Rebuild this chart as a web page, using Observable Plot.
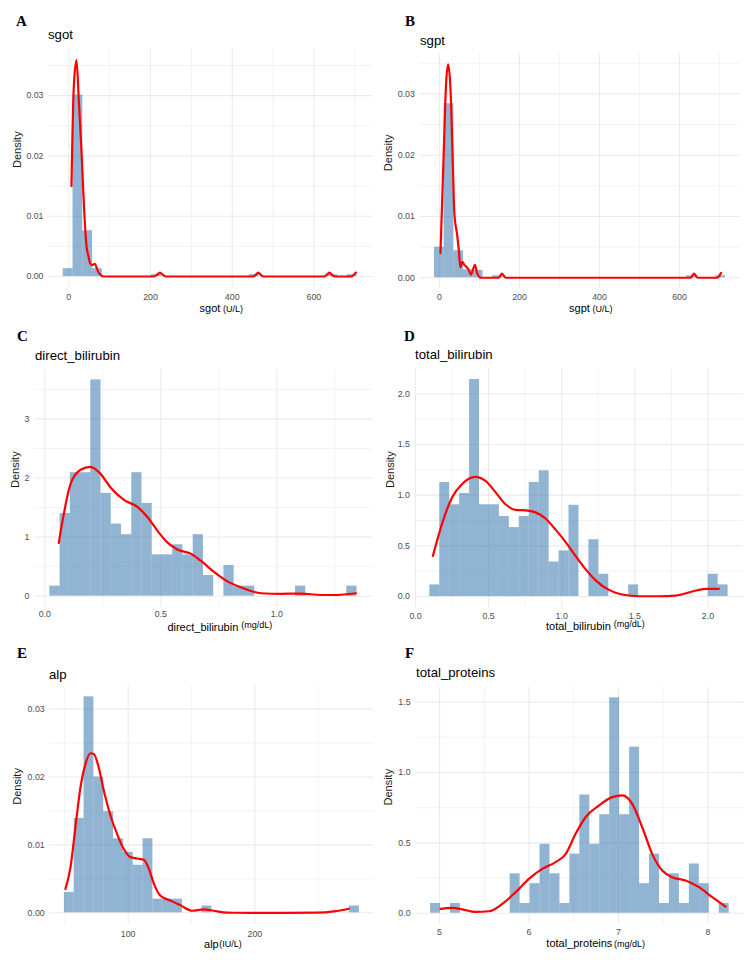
<!DOCTYPE html>
<html>
<head>
<meta charset="utf-8">
<script src="https://cdn.jsdelivr.net/npm/d3@7"></script>
<script src="https://cdn.jsdelivr.net/npm/@observablehq/plot@0.6"></script>
<style>
  html, body { margin: 0; padding: 0; background: #fff; }
  #root { position: relative; width: 750px; height: 970px; overflow: hidden; font-family: "Liberation Sans", Arial, sans-serif; }
  .lbl { position: absolute; white-space: nowrap; line-height: 1; color: #000; }
  .letter { font-family: "Liberation Serif", "Times New Roman", serif; font-weight: bold; font-size: 15px; }
  .title { font-size: 13.2px; }
  .axt { font-size: 11px; }
  .unit { position: absolute; left: 100%; font-size: 9px; line-height: 1; white-space: nowrap; }
  #root svg { position: absolute; }
</style>
</head>
<body>
<div id="root"></div>
<script>
// ---------- DATA ----------
// Panel A: sgot  (histogram densities, 30 bins)
const sgotBinStart = -13.7;
const sgotBinWidth = 24.0;
const sgotDensity = [0.0013, 0.0301, 0.0076, 0.0013, 0, 0, 0, 0, 0, 0.00031,
                     0, 0, 0, 0, 0, 0, 0, 0, 0, 0.00031,
                     0, 0, 0, 0, 0, 0, 0, 0.00031, 0, 0.00031];
const sgotCurve = [[6.5,0.0150],[12.2,0.0314],[18.8,0.0359],[24.5,0.0292],[31,0.0209],[35,0.0148],[38.4,0.0100],
                   [43.3,0.0051],[48,0.0034],[53,0.0021],[58,0.0019],[63.7,0.0021],[68,0.0015],[72,0.0008],[79,0.0002],
                   [86,0],[208,0],[216,0.0003],[223,0.00065],[230,0.0003],[238,0],[451,0],[458,0.0003],[464,0.00065],
                   [470,0.0003],[477,0],[625,0],[632,0.0003],[638,0.00065],[644,0.0003],[651,0],[692,0],[698,0.0003],[703,0.00066]];

// Panel B: sgpt
const sgptBinStart = -12.5;
const sgptBinWidth = 24.25;
const sgptDensity = [0.0050, 0.0284, 0.0044, 0.0013, 0.0012, 0, 0.00032, 0, 0, 0,
                     0, 0, 0, 0, 0, 0, 0, 0, 0, 0,
                     0, 0, 0, 0, 0, 0, 0.00032, 0, 0, 0.00032];
const sgptCurve = [[2.5,0.0040],[10.8,0.0207],[16,0.031],[21.6,0.0348],[27.4,0.031],[33.2,0.0191],[37.3,0.0104],
                   [44,0.0071],[48.1,0.0047],[52.3,0.0017],[57,0.0026],[62,0.0021],[67,0.0018],[73,0.0013],[79,0.0005],
                   [84,0.0014],[88.5,0.0021],[94,0.0008],[100,0.0001],[104,0],[147,0],[152,0.0003],[156,0.0007],
                   [161,0.0003],[166,0],[627,0],[632,0.0003],[636,0.0007],[641,0.0003],[646,0],[694,0],[699,0.0003],[704,0.0008]];

// Panel C: direct_bilirubin
const dbilBinStart = 0.0216;
const dbilBinWidth = 0.04413;
const dbilDensity = [0.17, 1.40, 2.09, 2.09, 3.66, 1.74, 1.22, 1.04, 2.09, 1.57,
                     0.70, 0.70, 0.87, 0.70, 1.04, 0.35, 0, 0.52, 0.17, 0.17,
                     0, 0, 0, 0, 0.17, 0, 0, 0, 0, 0.17];
const dbilCurve = [[0.060,0.90],[0.111,1.90],[0.154,2.14],[0.197,2.19],[0.240,2.07],[0.283,1.84],[0.341,1.63],
                   [0.399,1.51],[0.442,1.34],[0.485,1.11],[0.528,0.91],[0.571,0.79],[0.629,0.72],[0.672,0.60],
                   [0.729,0.41],[0.787,0.25],[0.845,0.15],[0.931,0.05],[1.017,0.04],[1.104,0.045],[1.19,0.02],
                   [1.248,0.02],[1.341,0.05]];

// Panel D: total_bilirubin
const tbilBinStart = 0.098;
const tbilBinWidth = 0.068;
const tbilDensity = [0.115, 1.125, 0.905, 1.016, 2.14, 0.905, 0.905, 0.79, 0.68, 0.79,
                     1.125, 1.24, 0.34, 0.45, 0.90, 0, 0.56, 0.22, 0, 0,
                     0.115, 0, 0, 0, 0, 0, 0, 0, 0.22, 0.115];
const tbilCurve = [[0.119,0.40],[0.182,0.72],[0.251,0.98],[0.319,1.11],[0.41,1.18],[0.479,1.14],[0.547,1.03],
                   [0.616,0.91],[0.684,0.855],[0.753,0.85],[0.821,0.83],[0.889,0.77],[0.958,0.66],[1.026,0.54],
                   [1.095,0.40],[1.163,0.27],[1.232,0.16],[1.323,0.066],[1.414,0.02],[1.528,0.003],[1.665,0.003],
                   [1.779,0.01],[1.893,0.05],[1.984,0.076],[2.075,0.076]];

// Panel E: alp
const alpBinStart = 49.7;
const alpBinWidth = 7.76;
const alpDensity = [0.0030, 0.0139, 0.0318, 0.0200, 0.0149, 0.0109, 0.0089, 0.0070, 0.0109, 0.0020,
                    0.0020, 0.0020, 0, 0, 0.0010, 0, 0, 0, 0, 0,
                    0, 0, 0, 0, 0, 0, 0, 0, 0, 0.0010];
const alpCurve = [[50.5,0.0035],[54.5,0.0067],[58.4,0.0126],[62.4,0.0185],[66.3,0.0219],[70.3,0.0235],[72.9,0.0234],
                  [76.8,0.0214],[80.8,0.0180],[86.1,0.0143],[91.3,0.0116],[96.6,0.0094],[101.8,0.0082],[107.1,0.0080],
                  [112.4,0.0078],[116.3,0.0065],[120.3,0.0043],[125.5,0.0025],[133.4,0.0018],[141.3,0.0011],
                  [150.5,0.0003],[159.7,0.0005],[167.6,0.0003],[178,0.00002],[196.6,0],[222.9,0],[249.2,0.00002],
                  [262.4,0.0002],[274.2,0.0006]];

// Panel F: total_proteins
const tprotBinStart = 4.899;
const tprotBinWidth = 0.1113;
const tprotDensity = [0.069, 0, 0.069, 0, 0, 0, 0, 0, 0.28, 0.069,
                      0.21, 0.49, 0.28, 0.069, 0.42, 0.84, 0.49, 0.70, 1.53, 0.70,
                      1.18, 0.21, 0.42, 0.069, 0.28, 0.069, 0.35, 0.21, 0, 0.069];
const tprotCurve = [[5.011,0.031],[5.142,0.038],[5.253,0.028],[5.403,0.009],[5.552,0.014],[5.701,0.066],[5.85,0.149],
                    [5.999,0.244],[6.148,0.315],[6.297,0.363],[6.409,0.42],[6.521,0.564],[6.632,0.682],[6.781,0.765],
                    [6.93,0.825],[7.042,0.837],[7.154,0.777],[7.266,0.611],[7.378,0.42],[7.49,0.303],[7.601,0.256],
                    [7.751,0.232],[7.9,0.185],[8.049,0.114],[8.198,0.047]];

// Tick values
const ticksSgX = [0, 200, 400, 600];
const ticksSgY = [0, 0.01, 0.02, 0.03];
const ticksDbX = [0, 0.5, 1.0];
const ticksDbY = [0, 1, 2, 3];
const ticksTbX = [0, 0.5, 1.0, 1.5, 2.0];
const ticksTbY = [0, 0.5, 1.0, 1.5, 2.0];
const ticksAlpX = [100, 200];
const ticksAlpY = [0, 0.01, 0.02, 0.03];
const ticksTpX = [5, 6, 7, 8];
const ticksTpY = [0, 0.5, 1.0, 1.5];

// ---------- LAYOUT ----------
const panels = [
  { letter: "A", title: "sgot", axMain: "sgot", axUnit: "(U/L)", start: sgotBinStart, width: sgotBinWidth, density: sgotDensity, curve: sgotCurve,
    px0: 0, rowTop: 0, rowH: 310, frame: [48, 372, 48, 287], xdom: [-49.7, 743.5], ydom: [-0.00182, 0.03781],
    xMajor: ticksSgX, xMinor: [100, 300, 500, 700], yMajor: ticksSgY, yMinor: [0.005, 0.015, 0.025, 0.035],
    xFmt: d3.format("d"), yFmt: d3.format(".2f"), xPad: 6.2, densX: 17,
    letterPos: [16, 26.7], titlePos: [48, 39], axBase: 312.5, raise: 0, gap: 2.5 },
  { letter: "B", title: "sgpt", axMain: "sgpt", axUnit: "(U/L)", start: sgptBinStart, width: sgptBinWidth, density: sgptDensity, curve: sgptCurve,
    px0: 375, rowTop: 0, rowH: 310, frame: [419.4, 739.6, 53.3, 288], xdom: [-48.9, 751.4], ydom: [-0.00175, 0.03654],
    xMajor: ticksSgX, xMinor: [100, 300, 500, 700], yMajor: ticksSgY, yMinor: [0.005, 0.015, 0.025, 0.035],
    xFmt: d3.format("d"), yFmt: d3.format(".2f"), xPad: 5.1, densX: 388.3,
    letterPos: [405, 26.7], titlePos: [420, 45], axBase: 312.5, raise: 0, gap: 2.5 },
  { letter: "C", title: "direct_bilirubin", axMain: "direct_bilirubin", axUnit: "(mg/dL)", start: dbilBinStart, width: dbilBinWidth, density: dbilDensity, curve: dbilCurve,
    px0: 0, rowTop: 310, rowH: 310, frame: [34, 371.7, 368.6, 606.5], xdom: [-0.0446, 1.411], ydom: [-0.183, 3.843],
    xMajor: ticksDbX, xMinor: [0.25, 0.75, 1.25], yMajor: ticksDbY, yMinor: [0.5, 1.5, 2.5, 3.5],
    xFmt: d3.format(".1f"), yFmt: d3.format("d"), xPad: 4.0, densX: 15,
    letterPos: [17, 341.7], titlePos: [35, 360.5], axBase: 631, raise: 2.5, gap: 3 },
  { letter: "D", title: "total_bilirubin", axMain: "total_bilirubin", axUnit: "(mg/dL)", start: tbilBinStart, width: tbilBinWidth, density: tbilDensity, curve: tbilCurve,
    px0: 375, rowTop: 310, rowH: 310, frame: [414.4, 742.5, 368.2, 606.9], xdom: [-0.004, 2.24], ydom: [-0.107, 2.247],
    xMajor: ticksTbX, xMinor: [0.25, 0.75, 1.25, 1.75], yMajor: ticksTbY, yMinor: [0.25, 0.75, 1.25, 1.75],
    xFmt: d3.format(".1f"), yFmt: d3.format(".1f"), xPad: 5.1, densX: 390,
    letterPos: [404, 341.7], titlePos: [415, 359.6], axBase: 630, raise: 2.5, gap: 3 },
  { letter: "E", title: "alp", axMain: "alp", axUnit: "(IU/L)", start: alpBinStart, width: alpBinWidth, density: alpDensity, curve: alpCurve,
    px0: 0, rowTop: 620, rowH: 350, frame: [49.2, 373.6, 685.5, 923.1], xdom: [38.1, 294.1], ydom: [-0.00159, 0.0334],
    xMajor: ticksAlpX, xMinor: [50, 150, 250], yMajor: ticksAlpY, yMinor: [0.005, 0.015, 0.025],
    xFmt: d3.format("d"), yFmt: d3.format(".2f"), xPad: 7.3, densX: 17.3,
    letterPos: [17, 658.3], titlePos: [49, 678.9], axBase: 948, raise: 0, gap: 0.6 },
  { letter: "F", title: "total_proteins", axMain: "total_proteins", axUnit: "(mg/dL)", start: tprotBinStart, width: tprotBinWidth, density: tprotDensity, curve: tprotCurve,
    px0: 375, rowTop: 620, rowH: 350, frame: [415.1, 743.6, 686.6, 923.5], xdom: [4.732, 8.405], ydom: [-0.0765, 1.6065],
    xMajor: ticksTpX, xMinor: [5.5, 6.5, 7.5], yMajor: ticksTpY, yMinor: [0.25, 0.75, 1.25],
    xFmt: d3.format("d"), yFmt: d3.format(".1f"), xPad: 5.2, densX: 388.3,
    letterPos: [405, 658.3], titlePos: [416, 677.5], axBase: 947.5, raise: 0, gap: 1.7 }
];

const root = document.getElementById("root");
const SANS = 0.8465, SERIF = 0.8375;

function addLabel(cls, x, baseline, fs, ratio, txt) {
  const d = document.createElement("div");
  d.className = "lbl " + cls;
  d.textContent = txt;
  d.style.left = x + "px";
  d.style.top = (baseline - ratio * fs) + "px";
  root.appendChild(d);
  return d;
}

for (const p of panels) {
  const bars = p.density
    .map((v, i) => ({ x1: p.start + i * p.width, x2: p.start + (i + 1) * p.width, y: v }))
    .filter(d => d.y > 0);
  const line = p.curve.map(([x, y]) => ({ x, y }));
  const ml = p.frame[0] - p.px0;
  const mr = p.px0 + 375 - p.frame[1];
  const mt = p.frame[2] - p.rowTop;
  const mb = p.rowTop + p.rowH - p.frame[3];
  const grid = "#ebebeb";

  const svg = Plot.plot({
    width: 375, height: p.rowH,
    marginLeft: ml, marginRight: mr, marginTop: mt, marginBottom: mb,
    style: { fontFamily: "'Liberation Sans', Arial, sans-serif", fontSize: "8.8px", overflow: "visible", background: "transparent" },
    x: { domain: p.xdom },
    y: { domain: p.ydom },
    marks: [
      Plot.ruleX(p.xMinor, { stroke: grid, strokeWidth: 0.6 }),
      Plot.ruleY(p.yMinor, { stroke: grid, strokeWidth: 0.6 }),
      Plot.ruleX(p.xMajor, { stroke: grid, strokeWidth: 1.1 }),
      Plot.ruleY(p.yMajor, { stroke: grid, strokeWidth: 1.1 }),
      Plot.rect(bars, { x1: "x1", x2: "x2", y1: 0, y2: "y", fill: "steelblue", fillOpacity: 0.6 }),
      Plot.line(line, { x: "x", y: "y", stroke: "red", strokeWidth: 2.2, curve: "monotone-x" }),
      Plot.axisX({ ticks: p.xMajor, tickSize: 0, tickPadding: p.xPad, tickFormat: p.xFmt, fill: "#4d4d4d", label: null }),
      Plot.axisY({ ticks: p.yMajor, tickSize: 0, tickPadding: 5, tickFormat: p.yFmt, fill: "#4d4d4d", label: null }),
      Plot.text(["Density"], { text: d => d, frameAnchor: "left", dx: p.densX - p.frame[0], rotate: -90, fontSize: 11, fill: "#1a1a1a" })
    ]
  });
  svg.style.left = p.px0 + "px";
  svg.style.top = p.rowTop + "px";
  root.appendChild(svg);

  addLabel("letter", p.letterPos[0], p.letterPos[1], 15, SERIF, p.letter);
  addLabel("title", p.titlePos[0], p.titlePos[1], 13.2, SANS, p.title);

  // x-axis title: main text centred on the panel, unit appended in smaller type
  const cx = (p.frame[0] + p.frame[1]) / 2;
  const ax = addLabel("axt", cx, p.axBase, 11, SANS, p.axMain);
  ax.style.transform = "translateX(-50%)";
  const u = document.createElement("span");
  u.className = "unit";
  u.textContent = p.axUnit;
  u.style.marginLeft = p.gap + "px";
  u.style.top = (SANS * 11 - SANS * 9 - p.raise) + "px";
  ax.appendChild(u);
}
</script>
</body>
</html>
